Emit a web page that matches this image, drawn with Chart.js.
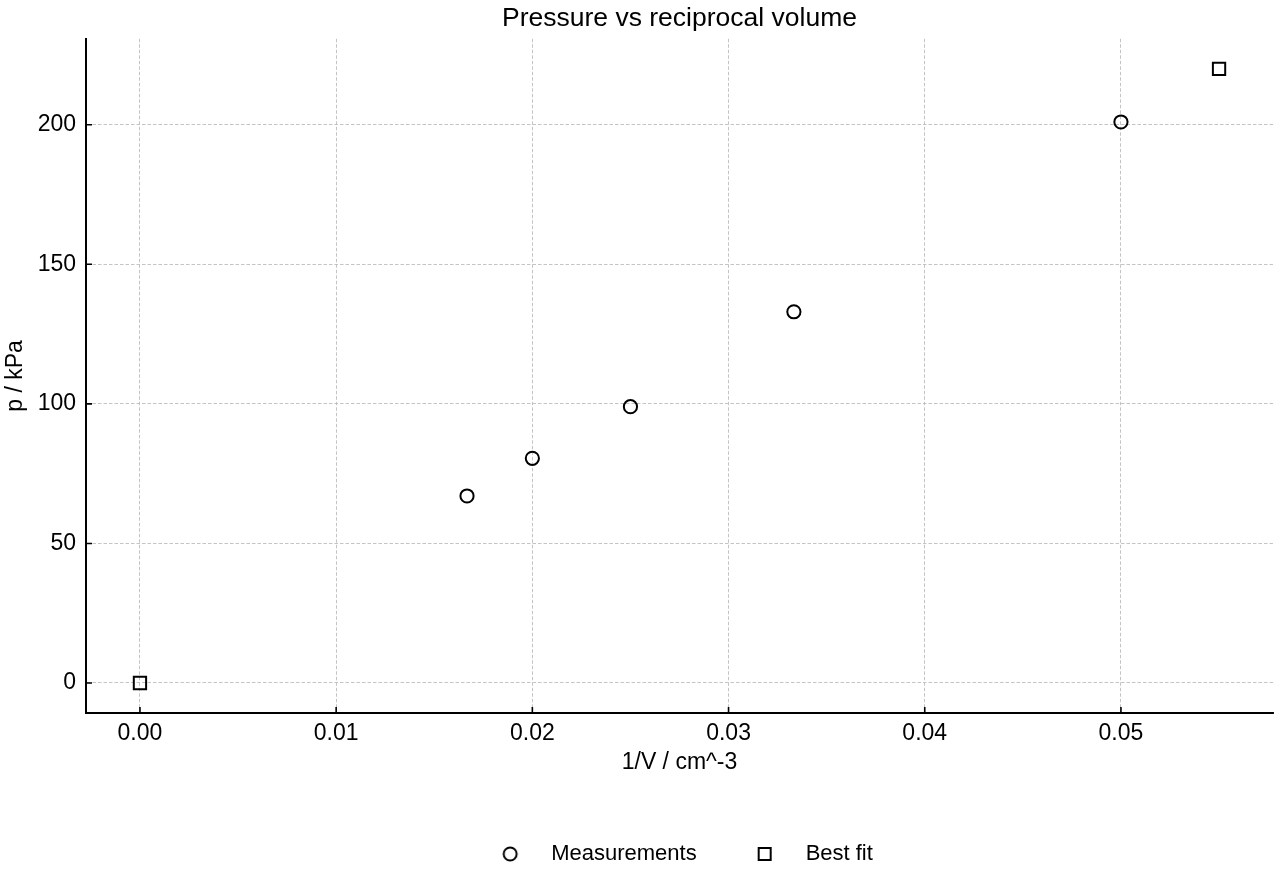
<!DOCTYPE html>
<html>
<head>
<meta charset="utf-8">
<script src="https://cdn.jsdelivr.net/npm/chart.js@4.4.1/dist/chart.umd.min.js"></script>
<style>
  html, body { margin: 0; padding: 0; background: #fff; }
  #wrap { width: 1280px; height: 880px; }
</style>
</head>
<body>
<div id="wrap"><canvas id="plot"></canvas></div>
<script>
// data
const measX = [0.01667, 0.02, 0.025, 0.03333, 0.05];
const measY = [67, 80.5, 99, 133, 201];
const fitX = [0, 0.055];
const fitY = [0, 220];
const xTicks = [0, 0.01, 0.02, 0.03, 0.04, 0.05];
const yTicks = [0, 50, 100, 150, 200];

const FONT = '"Liberation Sans", Arial, Helvetica, sans-serif';
Chart.defaults.font.family = FONT;
Chart.defaults.color = '#000';

function toPoints(xs, ys) {
  return xs.map((x, i) => ({x: x, y: ys[i]}));
}

// legend markers: marker at the left of a wide image so the text sits further away
function legendMarker(kind) {
  const c = document.createElement('canvas');
  c.width = 40;
  c.height = 22;
  const g = c.getContext('2d');
  g.strokeStyle = '#000';
  g.lineWidth = 2;
  g.beginPath();
  if (kind === 'circle') {
    g.arc(10, 11, 6.5, 0, Math.PI * 2);
  } else {
    g.rect(4, 5, 12, 12);
  }
  g.stroke();
  return c;
}
const markers = [legendMarker('circle'), legendMarker('rect')];

// matplotlib style ticks pointing into the plot
const innerTicks = {
  id: 'innerTicks',
  afterLayout(chart) {
    // title centred over the axes, legend row a bit right of centre
    chart.titleBlock.left = chart.chartArea.left;
    chart.titleBlock.right = chart.chartArea.right;
    chart.legend.left += 50;
    chart.legend.right += 50;
  },
  afterDraw(chart) {
    const {ctx, chartArea, scales} = chart;
    ctx.save();
    ctx.strokeStyle = '#000';
    ctx.lineWidth = 1.6;
    ctx.beginPath();
    scales.x.ticks.forEach(t => {
      const px = scales.x.getPixelForValue(t.value);
      ctx.moveTo(px, chartArea.bottom);
      ctx.lineTo(px, chartArea.bottom - 6);
    });
    scales.y.ticks.forEach(t => {
      const py = scales.y.getPixelForValue(t.value);
      ctx.moveTo(chartArea.left, py);
      ctx.lineTo(chartArea.left + 6, py);
    });
    ctx.stroke();
    ctx.restore();
  }
};

const gridOpts = {
  color: '#bdbdbd',
  lineWidth: 0.9,
  drawTicks: false
};

new Chart(document.getElementById('plot'), {
  type: 'scatter',
  data: {
    datasets: [{
      label: 'Measurements',
      data: toPoints(measX, measY),
      pointStyle: 'circle',
      pointRadius: 6.6,
      pointHoverRadius: 6.6,
      borderColor: '#000',
      backgroundColor: 'rgba(0,0,0,0)',
      borderWidth: 2,
      showLine: false
    }, {
      label: 'Best fit',
      data: toPoints(fitX, fitY),
      pointStyle: 'rect',
      pointRadius: 8.7,
      pointHoverRadius: 8.7,
      borderColor: '#000',
      backgroundColor: 'rgba(0,0,0,0)',
      borderWidth: 2,
      showLine: false
    }]
  },
  options: {
    responsive: true,
    maintainAspectRatio: false,
    animation: false,
    layout: { autoPadding: false, padding: { left: 0, right: 7, top: 0, bottom: 5 } },
    plugins: {
      title: {
        display: true,
        text: 'Pressure vs reciprocal volume',
        color: '#000',
        font: { size: 26.5, weight: 'normal' },
        padding: { top: 3, bottom: 4 }
      },
      legend: {
        position: 'bottom',
        labels: {
          usePointStyle: true,
          pointStyleWidth: 40,
          padding: 58,
          color: '#000',
          font: { size: 22 },
          generateLabels(chart) {
            const items = Chart.defaults.plugins.legend.labels.generateLabels(chart);
            items.forEach((it, i) => { it.pointStyle = markers[i]; });
            return items;
          }
        }
      },
      tooltip: { enabled: false }
    },
    scales: {
      x: {
        type: 'linear',
        min: -0.00275,
        max: 0.05775,
        grid: Object.assign({}, gridOpts),
        border: { display: true, color: '#000', width: 2, dash: [3.5, 2] },
        afterBuildTicks(scale) {
          scale.ticks = xTicks.map(v => ({value: v}));
        },
        afterFit(scale) {
          scale.paddingLeft = 0;
          scale.paddingRight = 0;
          scale.height = 72;
        },
        ticks: {
          padding: 9,
          font: { size: 23, lineHeight: 1 },
          callback: v => v.toFixed(2)
        },
        title: {
          display: true,
          text: '1/V / cm^-3',
          font: { size: 23, lineHeight: 1 },
          padding: { top: 0.5, bottom: 10.5 }
        }
      },
      y: {
        type: 'linear',
        min: -10.75,
        max: 230.8,
        grid: Object.assign({}, gridOpts),
        border: { display: true, color: '#000', width: 2, dash: [3.5, 2] },
        afterBuildTicks(scale) {
          scale.ticks = yTicks.map(v => ({value: v}));
        },
        afterFit(scale) {
          scale.width = 86;
        },
        ticks: {
          padding: 10,
          font: { size: 23 },
          callback: v => String(v)
        },
        title: {
          display: true,
          text: 'p / kPa',
          font: { size: 23 },
          padding: { top: 2, bottom: 10 }
        }
      }
    }
  },
  plugins: [innerTicks]
});
</script>
</body>
</html>
